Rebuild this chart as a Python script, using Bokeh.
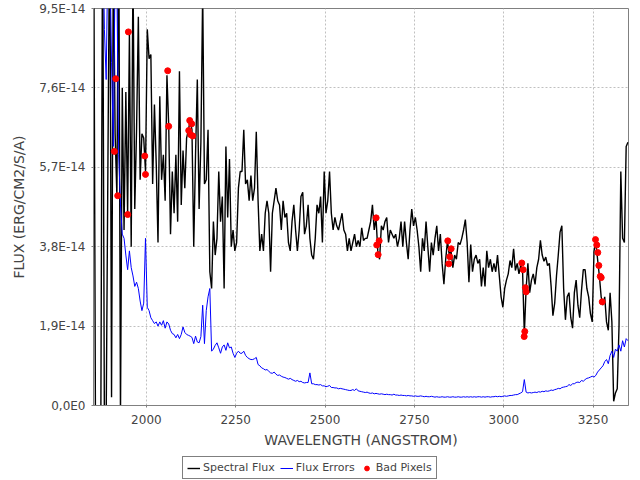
from bokeh.plotting import figure
from bokeh.layouts import column
from bokeh.models import (Range1d, FixedTicker, CustomJSTickFormatter, Legend,
                          LegendItem, ColumnDataSource)
from bokeh.embed import file_html
from bokeh.resources import INLINE

# ---------------- data (flux values in units of 1e-14 erg/cm2/s/A) ----------------
WAVE_START = 1852.5   # Angstrom, first sample
WAVE_STEP = 5.0       # Angstrom, sampling interval

FLUX_E14 = [
    12.0, -0.5, -1.0, -0.8, -0.5, 12.0, -0.5, -0.3, 6.0, 12.0,
    0.2, 11.0, 6.5, 5.0, 12.0, -0.3, 7.6, 4.2, 7.5, 4.57,
    8.9, 3.8, 10.5, 4.7, 6.6, 9.3, 5.4, 6.5, 6.4, 5.6,
    9.0, 8.3, 8.4, 5.3, 7.2, 5.8, 3.9, 7.4, 5.4, 6.0,
    4.9, 7.9, 6.68, 4.1, 5.6, 4.6, 6.0, 4.4, 8.0, 4.8,
    6.1, 5.2, 6.4, 6.6, 6.8, 6.6, 3.8, 6.0, 7.8, 4.7,
    6.3, 9.9, 5.3, 5.4, 6.6, 3.2, 2.8, 4.4, 3.6, 4.0,
    5.6, 4.4, 5.0, 2.8, 6.2, 4.5, 5.9, 3.8, 4.2, 3.7,
    3.9, 5.2, 5.6, 5.6, 6.6, 5.3, 5.4, 4.9, 5.5, 4.9,
    5.2, 6.55, 4.9, 3.7, 4.1, 3.7, 4.6, 4.9, 4.6, 3.2,
    4.6, 4.9, 5.2, 4.9, 4.8, 4.2, 4.9, 4.5, 4.6, 3.9,
    3.7, 4.4, 4.8, 4.2, 3.7, 4.2, 5.0, 5.1, 4.1, 4.3,
    4.8, 4.0, 3.6, 3.5, 4.0, 4.8, 4.6, 5.0, 3.9, 5.6,
    4.6, 4.9, 5.6, 4.6, 4.2, 4.5, 4.3, 4.2, 4.4, 4.6,
    4.2, 4.1, 3.7, 4.0, 3.7, 3.9, 4.1, 3.8, 3.95, 3.8,
    4.25, 3.95, 4.0, 4.0, 4.2, 4.4, 4.8, 4.2, 4.49, 3.7,
    3.5, 4.3, 4.2, 4.4, 4.5, 3.9, 4.2, 4.1, 4.0, 4.1,
    3.8, 4.0, 4.4, 3.8, 4.4, 3.9, 3.5, 4.2, 4.7, 4.3,
    4.5, 4.2, 3.8, 3.2, 4.0, 3.7, 4.4, 3.8, 3.2, 3.9,
    3.6, 4.0, 4.3, 3.7, 4.1, 3.4, 2.9, 3.5, 3.94, 3.6,
    3.7, 3.3, 3.6, 3.5, 3.9, 3.85, 4.0, 4.2, 4.45, 3.9,
    2.95, 3.85, 3.2, 3.5, 3.6, 3.4, 3.5, 2.85, 3.3, 2.85,
    3.7, 3.3, 3.5, 3.2, 3.4, 3.2, 3.6, 3.1, 2.6, 2.35,
    2.8, 3.0, 3.15, 3.47, 3.3, 3.75, 3.23, 3.4, 3.15, 3.35,
    3.25, 1.7, 2.8, 3.4, 2.7, 3.0, 3.15, 2.9, 3.3, 3.5,
    3.95, 3.6, 3.45, 3.55, 3.35, 3.4, 2.85, 2.15, 2.45, 3.1,
    3.6, 4.15, 4.3, 2.8, 2.05, 2.6, 2.7, 2.1, 1.85, 2.7,
    3.0, 2.4, 2.1, 2.75, 3.25, 3.25, 2.8, 2.6, 2.2, 2.0,
    3.7, 3.9, 3.5, 3.1, 2.6, 2.4, 2.6, 2.0, 1.8, 2.7,
    2.0, 0.1, 0.3, 0.4, 1.9, 5.6, 4.0, 3.9, 6.2, 6.3,
]

ERROR_E14 = [
    20, 20, 18, 16, 14, 12, 9.0, 7.8, 11, 11,
    8.2, 6.2, 10.5, 10, 6.0, 4.8, 4.1, 4.0, 3.6, 3.25,
    3.7, 3.3, 3.1, 2.85, 2.95, 2.8, 2.5, 2.27, 2.45, 4.0,
    2.35, 2.27, 2.1, 2.03, 1.96, 2.0, 1.9, 2.0, 1.92, 2.03,
    1.85, 2.0, 1.95, 1.8, 1.72, 1.7, 1.62, 1.7, 1.6, 1.7,
    1.88, 1.75, 1.7, 1.68, 1.66, 1.63, 1.48, 1.66, 1.52, 1.5,
    1.65, 2.4, 1.48, 2.27, 2.6, 2.8, 1.3, 1.35, 1.44, 1.5,
    1.38, 1.25, 1.4, 1.45, 1.32, 1.5, 1.38, 1.4, 1.25, 1.15,
    1.25, 1.3, 1.25, 1.25, 1.3, 1.2, 1.15, 1.12, 1.1, 1.1,
    1.12, 1.15, 0.98, 0.95, 0.9, 0.88, 0.85, 0.86, 0.82, 0.78,
    0.77, 0.8, 0.75, 0.72, 0.73, 0.7, 0.68, 0.67, 0.65, 0.63,
    0.65, 0.62, 0.6, 0.58, 0.6, 0.57, 0.58, 0.55, 0.54, 0.55,
    0.55, 0.78, 0.52, 0.52, 0.5, 0.5, 0.49, 0.5, 0.47, 0.47,
    0.45, 0.46, 0.48, 0.43, 0.43, 0.42, 0.42, 0.4, 0.41, 0.4,
    0.39, 0.38, 0.37, 0.36, 0.36, 0.38, 0.36, 0.4, 0.35, 0.34,
    0.33, 0.32, 0.31, 0.32, 0.3, 0.29, 0.3, 0.28, 0.29, 0.28,
    0.27, 0.28, 0.27, 0.26, 0.27, 0.26, 0.26, 0.25, 0.27, 0.25,
    0.25, 0.24, 0.25, 0.24, 0.24, 0.23, 0.24, 0.23, 0.23, 0.22,
    0.23, 0.22, 0.22, 0.23, 0.22, 0.21, 0.22, 0.21, 0.21, 0.22,
    0.21, 0.2, 0.21, 0.2, 0.2, 0.21, 0.2, 0.2, 0.21, 0.2,
    0.2, 0.21, 0.2, 0.2, 0.21, 0.2, 0.2, 0.21, 0.2, 0.21,
    0.2, 0.21, 0.2, 0.21, 0.2, 0.21, 0.21, 0.2, 0.21, 0.2,
    0.21, 0.21, 0.2, 0.21, 0.21, 0.22, 0.21, 0.22, 0.21, 0.22,
    0.23, 0.22, 0.23, 0.24, 0.24, 0.25, 0.26, 0.26, 0.28, 0.3,
    0.33, 0.62, 0.32, 0.3, 0.31, 0.3, 0.31, 0.32, 0.31, 0.33,
    0.32, 0.34, 0.33, 0.35, 0.34, 0.35, 0.37, 0.36, 0.38, 0.39,
    0.41, 0.4, 0.43, 0.44, 0.45, 0.46, 0.5, 0.48, 0.52, 0.52,
    0.55, 0.56, 0.55, 0.6, 0.58, 0.62, 0.65, 0.66, 0.68, 0.7,
    0.68, 0.72, 0.8, 0.85, 0.9, 0.95, 1.05, 1.1, 1.0, 1.2,
    1.3, 1.15, 1.35, 1.3, 1.45, 1.3, 1.55, 1.4, 1.6, 1.55,
]

BAD_WAVE = [1910.4, 1914.1, 1919.7, 1947.7, 1949.6, 1995.5, 1997.5,
            2059.6, 2062.4, 2118.4, 2121.2, 2124.0, 2126.8, 2129.6,
            2642.9, 2644.6, 2648.5, 2651.3,
            2843.3, 2846.1, 2848.9, 2852.8,
            3050.4, 3054.3, 3057.1, 3058.8, 3060.5, 3062.5,
            3256.7, 3260.3, 3263.1, 3266.0, 3269.9, 3272.7, 3275.5]
BAD_FLUX_E14 = [6.08, 7.82, 5.02, 4.57, 8.94, 5.97, 5.53,
                8.01, 6.68, 6.58, 6.82, 6.48, 6.74, 6.45,
                4.49, 3.84, 3.61, 3.94,
                3.94, 3.39, 3.56, 3.75,
                3.41, 3.25, 1.65, 1.77, 2.82, 2.72,
                3.97, 3.84, 3.66, 3.35, 3.09, 3.06, 2.48]

X_TICKS = [2000, 2250, 2500, 2750, 3000, 3250]
Y_TICKS_E14 = [0.0, 1.9, 3.8, 5.7, 7.6, 9.5]
X_RANGE = (1852.0, 3349.0)
Y_MAX_E14 = 9.5
SCALE = 1e-14
SERIES_NAMES = ["Spectral Flux", "Flux Errors", "Bad Pixels"]

# ---------------- sources ----------------
wavelength = [WAVE_START + WAVE_STEP * k for k in range(len(FLUX_E14))]
spec = ColumnDataSource(dict(
    wave=wavelength,
    flux=[v * SCALE for v in FLUX_E14],
    err=[v * SCALE for v in ERROR_E14],
))
bad = ColumnDataSource(dict(wave=BAD_WAVE, flux=[v * SCALE for v in BAD_FLUX_E14]))

FONT = "DejaVu Sans"
TXT = "#444444"
FLUX_COLOR = "black"
ERR_COLOR = "#0000ff"
BAD_COLOR = "#ff0000"


def draw_series(fig):
    a = fig.line("wave", "flux", source=spec, line_color=FLUX_COLOR, line_width=1.4)
    b = fig.line("wave", "err", source=spec, line_color=ERR_COLOR, line_width=1)
    c = fig.scatter("wave", "flux", source=bad, size=6, fill_color=BAD_COLOR,
                    line_color=BAD_COLOR, marker="circle")
    return a, b, c


p = figure(width=640, height=452, output_backend="svg", toolbar_location=None,
           x_range=Range1d(*X_RANGE), y_range=Range1d(0, Y_MAX_E14 * SCALE),
           min_border_left=93, min_border_right=12, min_border_top=8,
           min_border_bottom=47)
p.background_fill_color = "white"
p.border_fill_color = "white"
p.outline_line_color = "#808080"
p.outline_line_width = 1

draw_series(p)

p.xaxis.ticker = FixedTicker(ticks=X_TICKS)
p.yaxis.ticker = FixedTicker(ticks=[t * SCALE for t in Y_TICKS_E14])
p.yaxis.formatter = CustomJSTickFormatter(code="""
    if (Math.abs(tick) < 1e-30) { return "0,0E0"; }
    const e = Math.floor(Math.log10(Math.abs(tick)) + 1e-9);
    const m = tick / Math.pow(10, e);
    return m.toFixed(1).replace('.', ',') + "E" + e;
""")

p.xaxis.axis_label = "WAVELENGTH (ANGSTROM)"
p.yaxis.axis_label = "FLUX (ERG/CM2/S/A)"
for ax in (p.xaxis[0], p.yaxis[0]):
    ax.axis_line_color = "#808080"
    ax.major_tick_line_color = "#808080"
    ax.major_tick_out = 2
    ax.major_tick_in = 0
    ax.minor_tick_line_color = None
    ax.major_label_text_font = FONT
    ax.major_label_text_font_size = "12px"
    ax.major_label_text_color = TXT
    ax.axis_label_text_font = FONT
    ax.axis_label_text_font_size = "14px"
    ax.axis_label_text_font_style = "normal"
    ax.axis_label_text_color = TXT
p.xaxis.major_label_standoff = 7
p.xaxis.axis_label_standoff = 5
p.yaxis.major_label_standoff = 6
p.yaxis.axis_label_standoff = 9

for g in (p.xgrid[0], p.ygrid[0]):
    g.grid_line_color = "#c0c0c0"
    g.grid_line_dash = "2 2"
    g.grid_line_width = 1

# ---------------- legend strip below the chart ----------------
# the same series are drawn here but fall outside this strip's ranges,
# so only their legend glyphs are visible
q = figure(width=640, height=28, output_backend="svg", toolbar_location=None,
           x_range=Range1d(0, 1), y_range=Range1d(0, 1),
           x_axis_location=None, y_axis_location=None, min_border=0)
q.outline_line_color = None
q.grid.visible = False
q.background_fill_color = "white"
q.border_fill_color = "white"
lf, le, lb = draw_series(q)

legend = Legend(items=[
    LegendItem(label=SERIES_NAMES[0], renderers=[lf]),
    LegendItem(label=SERIES_NAMES[1], renderers=[le]),
    LegendItem(label=SERIES_NAMES[2], renderers=[lb]),
], orientation="horizontal", location=(89, 1))
legend.border_line_color = "black"
legend.border_line_width = 1
legend.background_fill_color = "white"
legend.label_text_font = FONT
legend.label_text_font_size = "11px"
legend.label_text_color = TXT
legend.label_height = 12
legend.glyph_height = 12
legend.glyph_width = 13
legend.label_standoff = 3
legend.spacing = 5
legend.padding = 4
legend.margin = 0
q.add_layout(legend, "center")

layout = column(p, q, spacing=0)
open("out.html", "w").write(file_html(layout, INLINE))
